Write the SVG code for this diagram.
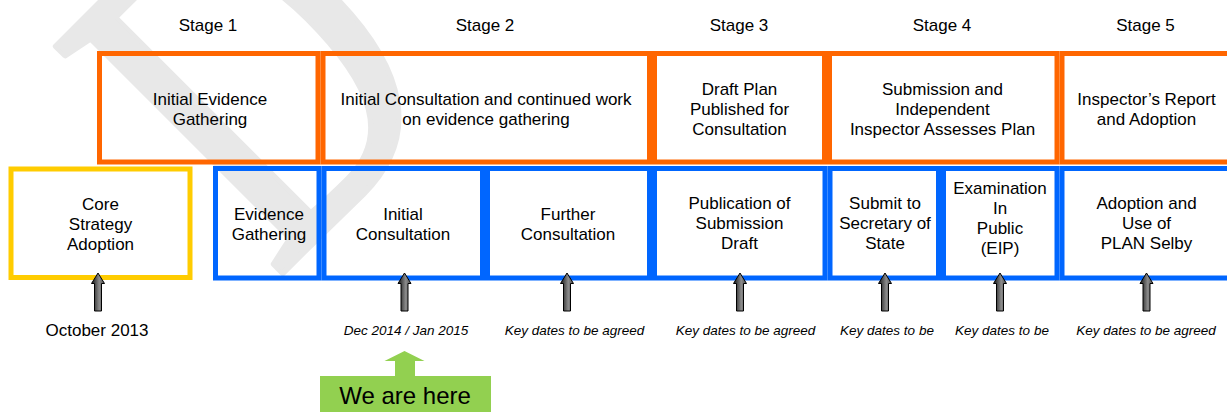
<svg xmlns="http://www.w3.org/2000/svg" xmlns:xlink="http://www.w3.org/1999/xlink" width="1227" height="412" viewBox="0 0 1227 412">
<style>
  text { font-family: "Liberation Sans", Arial, sans-serif; fill: #000; }
  .t { font-size: 17px; text-anchor: middle; }
  .d { font-size: 13.5px; font-style: italic; text-anchor: middle; }
  .wm { font-family: "Liberation Serif", "Times New Roman", serif; font-size: 490px; fill: #e8e8e8; stroke: #e8e8e8; stroke-width: 6; stroke-linejoin: round; }
  .o { fill: none; stroke: #FF6600; stroke-width: 5; }
  .b { fill: none; stroke: #0066FF; stroke-width: 5; }
  .y { fill: none; stroke: #FFCC00; stroke-width: 5; }
  .arr { fill: url(#ag); stroke: #000; stroke-width: 1; }
</style>
<defs>
  <linearGradient id="ag" x1="0" y1="0" x2="1" y2="0">
    <stop offset="0" stop-color="#111"/>
    <stop offset="0.6" stop-color="#8c8c8c"/>
    <stop offset="1" stop-color="#4a4a4a"/>
  </linearGradient>
  <path id="up" d="M0,0 L6.5,10.5 L3.5,10.5 L3.5,38 L-3.5,38 L-3.5,10.5 L-6.5,10.5 Z"/>
</defs>
<rect width="1227" height="412" fill="#fff"/>
<g id="watermark">
  <text class="wm" x="0" y="0" transform="translate(275 281) rotate(-45) scale(0.73 1)">D</text>
</g>

<g id="stage-labels">
  <text class="t" x="208" y="31">Stage 1</text>
  <text class="t" x="485" y="31">Stage 2</text>
  <text class="t" x="739" y="31">Stage 3</text>
  <text class="t" x="942" y="31">Stage 4</text>
  <text class="t" x="1145.5" y="31">Stage 5</text>
</g>

<g id="stage1-box">
  <rect class="o" x="99.5" y="53.5" width="218.5" height="108.5"/>
  <text class="t" x="210" y="104.5">Initial Evidence</text>
  <text class="t" x="210" y="124.5">Gathering</text>
</g>
<g id="stage2-box">
  <rect class="o" x="323" y="53.5" width="326.5" height="108.5"/>
  <text class="t" x="486" y="104.5">Initial Consultation and continued work</text>
  <text class="t" x="486" y="124.5">on evidence gathering</text>
</g>
<g id="stage3-box">
  <rect class="o" x="654.5" y="53.5" width="170" height="108.5"/>
  <text class="t" x="739.5" y="95">Draft Plan</text>
  <text class="t" x="739.5" y="115">Published for</text>
  <text class="t" x="739.5" y="135">Consultation</text>
</g>
<g id="stage4-box">
  <rect class="o" x="829.5" y="53.5" width="227.5" height="108.5"/>
  <text class="t" x="942.5" y="95">Submission and</text>
  <text class="t" x="942.5" y="115">Independent</text>
  <text class="t" x="942.5" y="135">Inspector Assesses Plan</text>
</g>
<g id="stage5-box">
  <rect class="o" x="1062" y="53.5" width="180" height="108.5"/>
  <text class="t" x="1146.5" y="104.5">Inspector’s Report</text>
  <text class="t" x="1146.5" y="124.5">and Adoption</text>
</g>

<g id="core-strategy">
  <rect class="y" x="11" y="169" width="179" height="108.5"/>
  <text class="t" x="100.5" y="210">Core</text>
  <text class="t" x="100.5" y="230">Strategy</text>
  <text class="t" x="100.5" y="250">Adoption</text>
</g>
<g id="evidence-gathering">
  <rect class="b" x="215.5" y="168.5" width="103.5" height="109.5"/>
  <text class="t" x="269" y="219.5">Evidence</text>
  <text class="t" x="269" y="239.5">Gathering</text>
</g>
<g id="initial-consultation">
  <rect class="b" x="324" y="168.5" width="158.5" height="109.5"/>
  <text class="t" x="403" y="219.5">Initial</text>
  <text class="t" x="403" y="239.5">Consultation</text>
</g>
<g id="further-consultation">
  <rect class="b" x="487.5" y="168.5" width="162" height="109.5"/>
  <text class="t" x="568" y="219.5">Further</text>
  <text class="t" x="568" y="239.5">Consultation</text>
</g>
<g id="publication">
  <rect class="b" x="654.5" y="168.5" width="170.5" height="109.5"/>
  <text class="t" x="739.5" y="209">Publication of</text>
  <text class="t" x="739.5" y="229">Submission</text>
  <text class="t" x="739.5" y="249">Draft</text>
</g>
<g id="submit">
  <rect class="b" x="830" y="168.5" width="108.5" height="109.5"/>
  <text class="t" x="885" y="209">Submit to</text>
  <text class="t" x="885" y="229">Secretary of</text>
  <text class="t" x="885" y="249">State</text>
</g>
<g id="examination">
  <rect class="b" x="943.5" y="168.5" width="113.5" height="109.5"/>
  <text class="t" x="1000" y="194">Examination</text>
  <text class="t" x="1000" y="214">In</text>
  <text class="t" x="1000" y="234">Public</text>
  <text class="t" x="1000" y="254">(EIP)</text>
</g>
<g id="adoption">
  <rect class="b" x="1062" y="168.5" width="180" height="109.5"/>
  <text class="t" x="1146.5" y="209">Adoption and</text>
  <text class="t" x="1146.5" y="229">Use of</text>
  <text class="t" x="1146.5" y="249">PLAN Selby</text>
</g>

<g id="connectors">
  <use class="arr" xlink:href="#up" href="#up" x="98" y="273"/>
  <use class="arr" xlink:href="#up" href="#up" x="404.5" y="273"/>
  <use class="arr" xlink:href="#up" href="#up" x="567" y="273"/>
  <use class="arr" xlink:href="#up" href="#up" x="740" y="273"/>
  <use class="arr" xlink:href="#up" href="#up" x="885" y="273"/>
  <use class="arr" xlink:href="#up" href="#up" x="1000" y="273"/>
  <use class="arr" xlink:href="#up" href="#up" x="1146.5" y="273"/>
</g>

<g id="dates">
  <text class="t" x="97" y="336">October 2013</text>
  <text class="d" x="406" y="335">Dec 2014 / Jan 2015</text>
  <text class="d" x="574.5" y="335">Key dates to be agreed</text>
  <text class="d" x="745.5" y="335">Key dates to be agreed</text>
  <text class="d" x="887" y="335">Key dates to be</text>
  <text class="d" x="1002" y="335">Key dates to be</text>
  <text class="d" x="1146" y="335">Key dates to be agreed</text>
</g>

<g id="we-are-here">
  <path d="M404.5,351 L424.5,361 L415,361 L415,376 L491,376 L491,420 L320,420 L320,376 L395,376 L395,361 L384.5,361 Z" fill="#92D050"/>
  <text x="405" y="403.5" style="font-size:24px;text-anchor:middle">We are here</text>
</g>
</svg>
